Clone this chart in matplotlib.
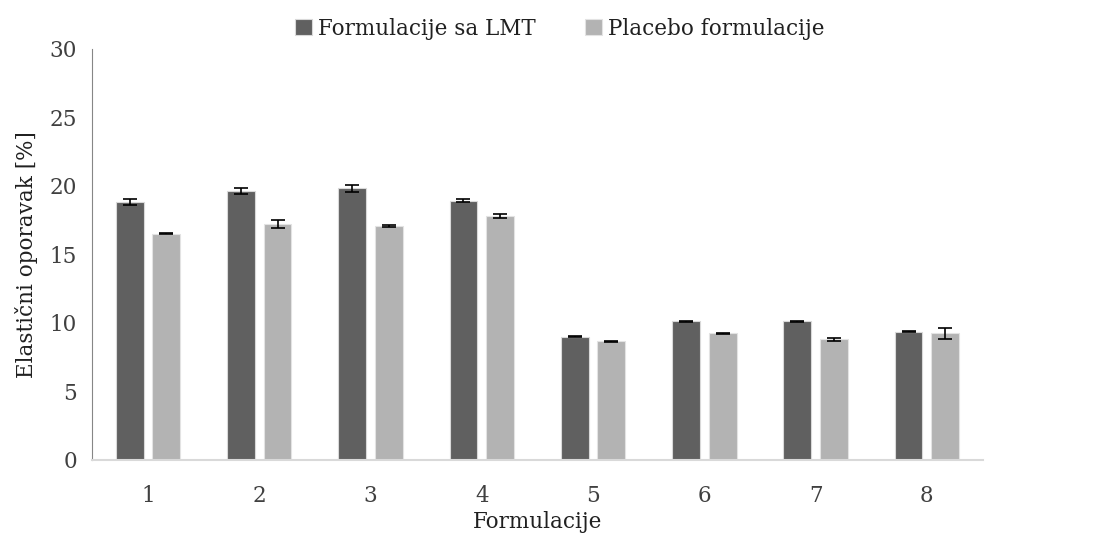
import numpy as np
import matplotlib.pyplot as plt

plt.rcParams['font.family'] = ['DejaVu Serif']

# elastic recovery per formulation
formulacije = ['1', '2', '3', '4', '5', '6', '7', '8']
lmt = [18.8, 19.6, 19.8, 18.9, 9.0, 10.1, 10.1, 9.35]
lmt_sd = [0.2, 0.2, 0.25, 0.12, 0.05, 0.04, 0.06, 0.03]
placebo = [16.5, 17.2, 17.05, 17.8, 8.65, 9.25, 8.8, 9.25]
placebo_sd = [0.05, 0.3, 0.08, 0.15, 0.03, 0.04, 0.1, 0.4]

x = np.arange(len(formulacije))
w = 0.25
off = 0.165

fig = plt.figure(figsize=(10.99, 5.41), dpi=100)
ax = fig.add_axes([0.084, 0.15, 0.81, 0.76])

err = dict(ecolor='black', elinewidth=1.2, capsize=5, capthick=1.2)
ax.bar(x - off, lmt, w, yerr=lmt_sd, color='#606060', edgecolor='#d9d9d9',
       linewidth=0.8, error_kw=err, label='Formulacije sa LMT')
ax.bar(x + off, placebo, w, yerr=placebo_sd, color='#b3b3b3', edgecolor='#e3e3e3',
       linewidth=0.8, error_kw=err, label='Placebo formulacije')

ax.set_xlim(-0.5, len(formulacije) - 0.5)
ax.set_ylim(0, 30)
ax.set_yticks(range(0, 31, 5))
ax.set_xticks(x, formulacije)
ax.tick_params(length=0, labelsize=15.5, colors='#404040')
ax.tick_params(axis='x', pad=18)
ax.tick_params(axis='y', pad=11)

for s in ['top', 'right']:
    ax.spines[s].set_visible(False)
ax.spines['left'].set_color('#868686')
ax.spines['bottom'].set_color('#d9d9d9')
ax.spines['bottom'].set_linewidth(1.5)

ax.set_xlabel('Formulacije', fontsize=15.5, color='#202020', labelpad=3)
ax.set_ylabel('Elastični oporavak [%]', fontsize=15.5, color='#202020', labelpad=8)

ax.legend(loc='lower center', bbox_to_anchor=(0.525, 0.975), ncol=2, frameon=False,
          fontsize=15.5, handlelength=0.8, handleheight=0.8, handletextpad=0.25,
          columnspacing=2.3, labelcolor='#202020')

fig.savefig('out.png', dpi=100)
